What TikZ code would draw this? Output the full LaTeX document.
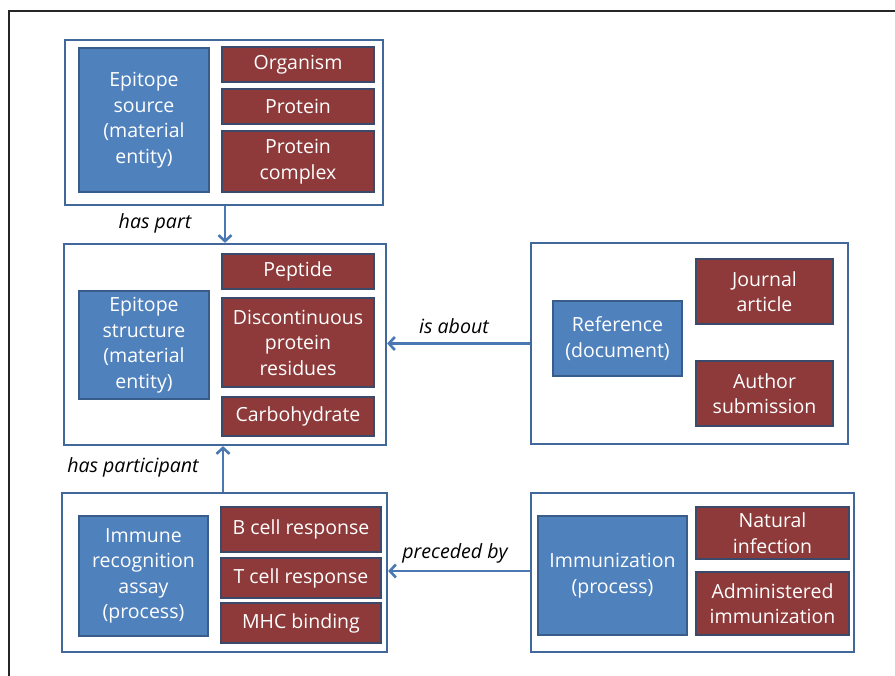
\documentclass[tikz,border=0pt]{standalone}
\usepackage{fontspec}
\setmainfont{Open Sans}
\usetikzlibrary{arrows.meta}
\definecolor{bfill}{HTML}{4F81BD}
\definecolor{bline}{HTML}{385D8A}
\definecolor{rfill}{HTML}{8E3A3A}
\definecolor{rline}{HTML}{3B4A6A}
\definecolor{cline}{HTML}{41679B}
\definecolor{aline}{HTML}{4A78B2}
\tikzset{
  cont/.style={draw=cline, line width=2.2pt, fill=white, rectangle, inner sep=0pt},
  bluebox/.style={draw=bline, line width=1.6pt, fill=bfill, rectangle, inner sep=0pt, text=white, align=center, font=\fontsize{19.5}{25.5}\selectfont},
  redbox/.style={draw=rline, line width=1.6pt, fill=rfill, rectangle, inner sep=0pt, text=white, align=center, font=\fontsize{19.5}{25.5}\selectfont},
  rel/.style={font=\fontsize{19.6}{23}\selectfont\itshape, text=black, inner sep=0pt},
  arr/.style={draw=aline, line width=2.8pt, -{Straight Barb[length=6pt,width=13pt,line width=2.6pt]}}
}
\begin{document}
\begin{tikzpicture}[x=1pt,y=-1pt]
\useasboundingbox (0,0) rectangle (895,676);
% outer frame (top and left edges)
\coordinate (fa) at (9,676);
\coordinate (fb) at (9,11);
\coordinate (fc) at (895,11);
\draw[line width=1.4pt, black!85] (fa) -- (fb) -- (fc);
% containers
\node[cont, minimum width=318pt, minimum height=165pt] (c1) at (224,122.5) {};
\node[cont, minimum width=322pt, minimum height=201pt] (c2) at (225,344.5) {};
\node[cont, minimum width=317pt, minimum height=201pt] (c3) at (689.5,343.5) {};
\node[cont, minimum width=325pt, minimum height=159pt] (c4) at (224.5,572.5) {};
\node[cont, minimum width=323pt, minimum height=159pt] (c5) at (692.5,572.5) {};
% blue boxes
\node[bluebox, minimum width=130pt, minimum height=144pt] (b1) at (144,120) {Epitope\\source\\(material\\entity)};
\node[bluebox, minimum width=130pt, minimum height=108pt] (b2) at (144,345) {Epitope\\structure\\(material\\entity)};
\node[bluebox, minimum width=129pt, minimum height=75pt] (b3) at (617.5,338.5) {Reference\\(document)};
\node[bluebox, minimum width=129pt, minimum height=120pt] (b4) at (143.5,576) {Immune\\recognition\\assay\\(process)};
\node[bluebox, minimum width=149pt, minimum height=119pt] (b5) at (612.5,575.5) {Immunization\\(process)};
% red boxes
\node[redbox, minimum width=152pt, minimum height=35pt] (r1) at (298,64.5) {Organism};
\node[redbox, minimum width=152pt, minimum height=35pt] (r2) at (298,106.5) {Protein};
\node[redbox, minimum width=152pt, minimum height=61pt] (r3) at (298,161.5) {Protein\\complex};
\node[redbox, minimum width=152pt, minimum height=35pt] (r4) at (298,271.5) {Peptide};
\node[redbox, minimum width=152pt, minimum height=89pt] (r5) at (298,342.5) {Discontinuous\\protein\\residues};
\node[redbox, minimum width=152pt, minimum height=39pt] (r6) at (298,416.5) {Carbohydrate};
\node[redbox, minimum width=137pt, minimum height=65pt] (r7) at (764.5,291.5) {Journal\\article};
\node[redbox, minimum width=137pt, minimum height=65pt] (r8) at (764.5,393.5) {Author\\submission};
\node[redbox, minimum width=160pt, minimum height=45pt] (r9) at (301,529.5) {B cell response};
\node[redbox, minimum width=160pt, minimum height=40pt] (r10) at (301,578) {T cell response};
\node[redbox, minimum width=160pt, minimum height=40pt] (r11) at (301,623) {MHC binding};
\node[redbox, minimum width=153pt, minimum height=52pt] (r12) at (772.5,533) {Natural\\infection};
\node[redbox, minimum width=153pt, minimum height=63pt] (r13) at (772.5,603.5) {Administered\\immunization};
% relation labels
\node[rel] (l1) at (155,223) {has part};
\node[rel] (l2) at (133,467) {has participant};
\node[rel] (l3) at (454,326) {is about};
\node[rel] (l4) at (455,553) {preceded by};
% arrows
\draw[arr] ([xshift=1pt]c1.south) -- ([xshift=1pt]c1.south |- c2.north);
\draw[arr] ([xshift=-1.5pt]c4.north) -- ([xshift=-1.5pt]c4.north |- c2.south);
\draw[arr] (c3.west) -- (c3.west -| c2.east);
\draw[arr] ([yshift=1.5pt]c5.west) -- ([yshift=1.5pt]c5.west -| c4.east);
\end{tikzpicture}
\end{document}
